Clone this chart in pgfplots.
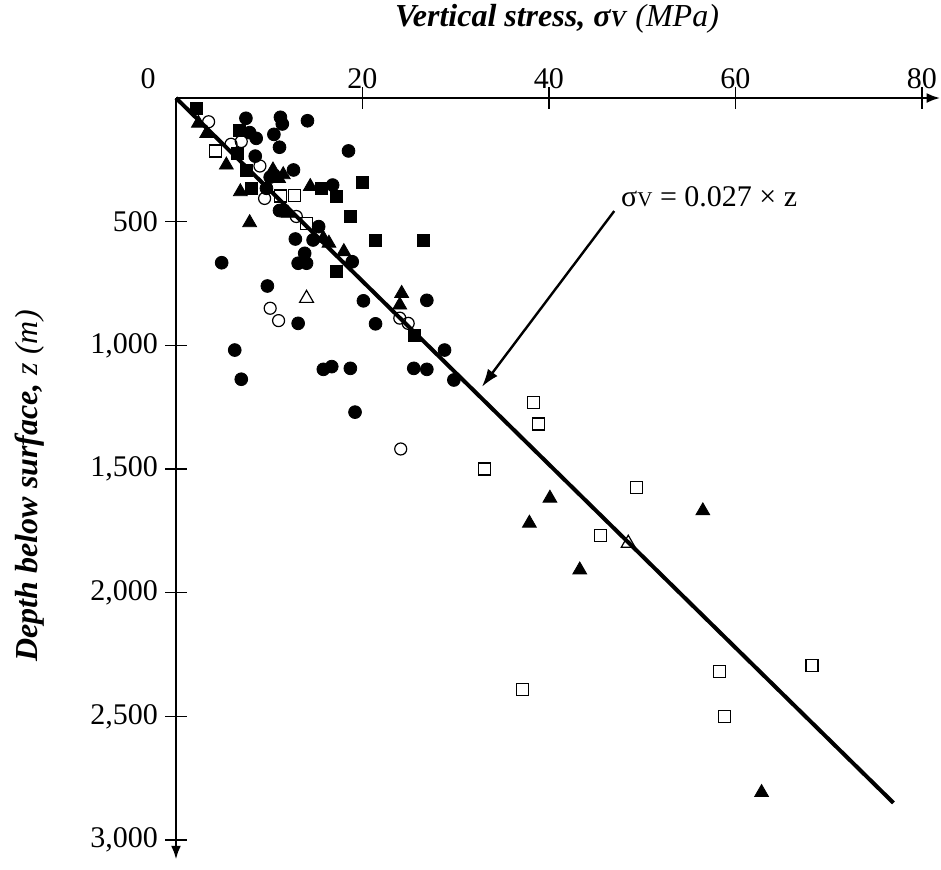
\documentclass[border=0pt]{standalone}
\usepackage{fontspec}
\setmainfont{Liberation Serif}
\usepackage{pgfplots}
\pgfplotsset{compat=1.18}
\usetikzlibrary{arrows.meta,calc}

\newcommand{\fs}{\fontsize{15}{18}\selectfont}
\newcommand{\fl}{\fontsize{16}{19}\selectfont}
\newcommand{\smallv}{{\fontsize{10.5}{10.5}\selectfont V}}
\newcommand{\smallvl}{{\fontsize{11.5}{11.5}\selectfont V}}

\begin{document}
\begin{tikzpicture}
\begin{axis}[
  scale only axis, width=382.3pt, height=380.9pt,
  xmin=0, xmax=82, ymin=0, ymax=3080,
  y dir=reverse,
  axis x line=top, axis y line=left,
  axis line style={line width=1.4pt, -{Latex[length=7pt,width=5pt]}},
  xtick={20,40,60,80}, ytick={500,1000,...,3000},
  tick align=center, major tick length=11pt,
  tick style={line width=0.8pt, black},
  ticklabel style={font=\fs},
  /pgf/number format/assume math mode=true,
  /pgf/number format/1000 sep={,},
  xticklabel style={anchor=center, yshift=4pt},
  yticklabel style={anchor=east},
  clip=false,
]
% trend line sigma_v = 0.027 z
\addplot[black, line width=2pt] coordinates {(0,0) (76.95,2850)};

% filled circles
\addplot[only marks, mark=*, mark size=3.2pt, black] coordinates {
  (7.5,82) (11.2,78) (11.4,105) (14.1,92) (7.9,140) (8.6,163) (10.5,147)
  (11.1,199) (8.5,235) (18.5,214) (12.6,291) (9.7,365) (10.1,320) (16.8,352)
  (11.1,455) (12.8,570) (15.3,520) (14.7,574) (13.8,628) (13.1,668) (14.0,668)
  (18.9,662) (4.9,666) (9.8,760) (13.1,911) (6.3,1019) (7.0,1137) (15.8,1097)
  (16.7,1086) (18.7,1093) (19.2,1270) (20.1,820) (26.9,818) (21.4,913)
  (28.8,1019) (25.5,1093) (26.9,1097) (29.8,1140)
};
% filled squares
\addplot[only marks, mark=square*, mark size=3pt, black] coordinates {
  (2.2,42) (6.8,129) (6.6,224) (7.6,291) (8.1,365) (15.6,365) (17.2,396)
  (20.0,341) (18.7,477) (21.4,574) (26.5,574) (17.2,702) (25.6,958)
};
% filled triangles
\addplot[only marks, mark=triangle*, mark size=4pt, black] coordinates {
  (2.4,102) (3.3,143) (5.4,271) (6.9,379) (7.9,504) (10.4,291) (11.0,325)
  (11.5,310) (12.0,466) (14.4,358) (15.8,567) (16.4,587) (18.0,621)
  (24.2,790) (24.0,837) (40.1,1618) (37.9,1719) (43.3,1908) (56.5,1669)
  (62.8,2808)
};
% open circles
\addplot[only marks, mark=o, mark size=3pt, black, mark options={line width=0.6pt}] coordinates {
  (3.5,96) (5.9,187) (7.0,176) (9.0,275) (9.5,406) (12.9,479) (10.1,850)
  (11.0,900) (24.0,890) (24.9,911) (24.1,1419)
};
% open squares
\addplot[only marks, mark=square, mark size=3pt, black, mark options={line width=0.6pt}] coordinates {
  (4.2,214) (11.2,396) (12.7,393) (14.0,506) (38.3,1230) (38.9,1318)
  (33.1,1500) (49.4,1575) (45.5,1770) (37.2,2393) (58.3,2320) (58.8,2502)
  (68.2,2293)
};
% open triangles
\addplot[only marks, mark=triangle, mark size=4pt, black, mark options={line width=0.6pt}] coordinates {
  (14.0,810) (48.5,1800)
};

\draw[line width=1.2pt, -{Latex[length=9pt,width=6pt]}] (axis cs:47.0,457) -- (axis cs:32.8,1168);
\node[anchor=west, inner sep=0pt, font=\fs] at (axis cs:47.7,400) {σ\smallv{} = 0.027 × z};

\node[font=\fl] at ($(axis cs:40,0)+(4pt,39.5pt)$) {\textbf{\textit{Vertical stress, σ\smallvl}} \textit{(MPa)}};
\node[font=\fl, rotate=90] at ($(axis cs:0,1568)+(-73pt,0)$) {\textbf{\textit{Depth below surface,}} \textit{z (m)}};
\node[font=\fs, anchor=east, inner sep=0pt] at ($(axis cs:0,0)+(-10pt,9.5pt)$) {0};
\coordinate (O) at (axis cs:0,0);
\end{axis}
\pgfresetboundingbox
\path ($(O)+(-88pt,49pt)$) rectangle ($(O)+(382.5pt,-385.5pt)$);
\end{tikzpicture}
\end{document}
